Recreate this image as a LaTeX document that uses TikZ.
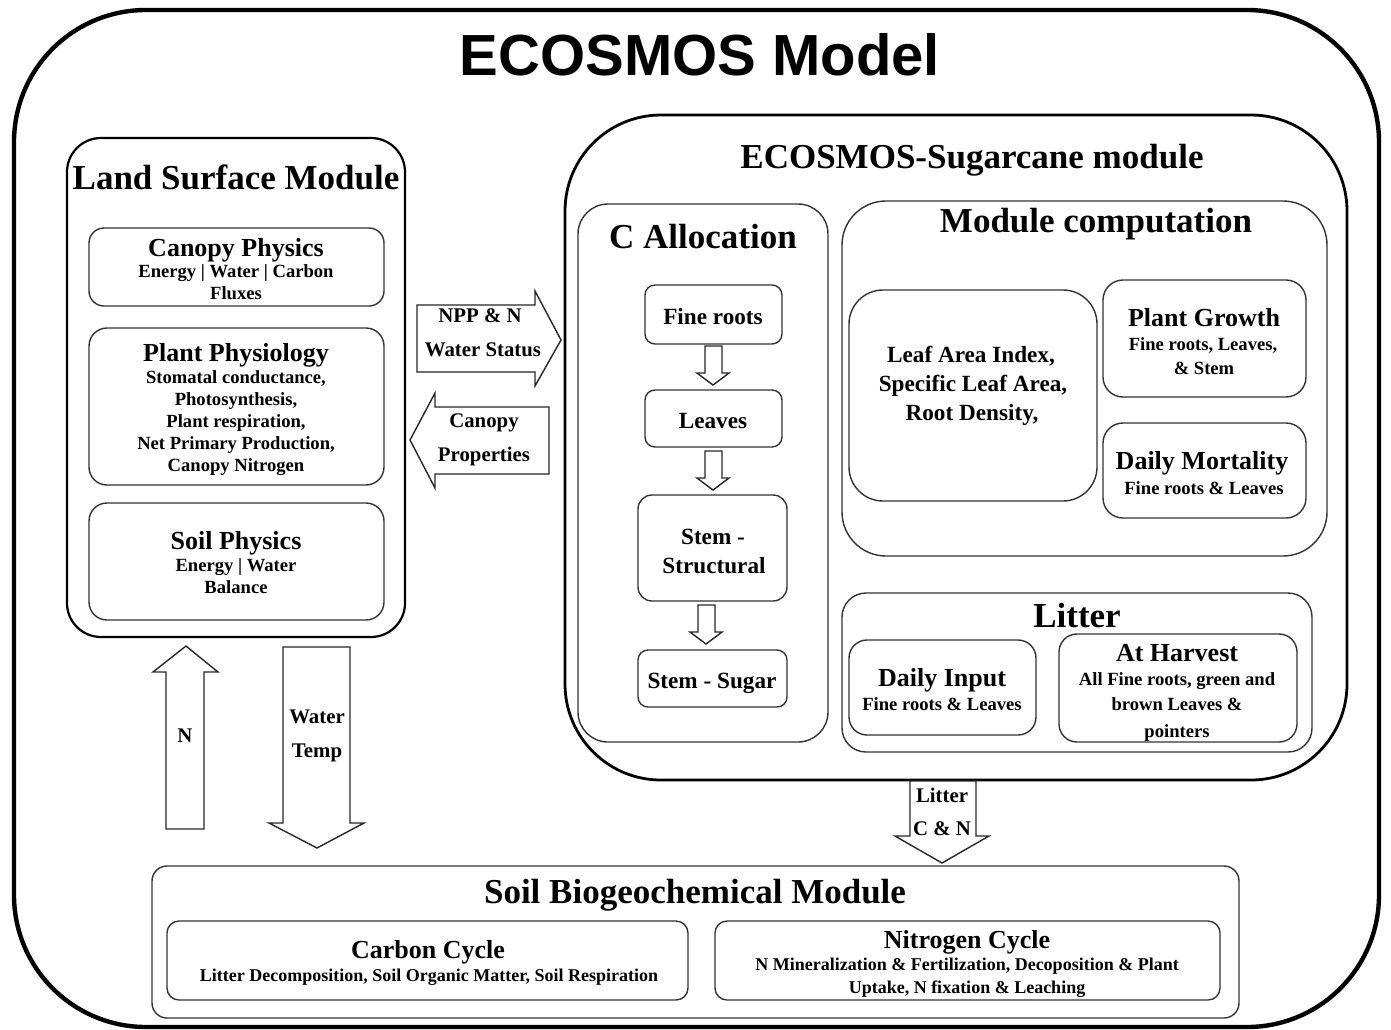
\documentclass[tikz,border=0pt]{standalone}
\usepackage{fontspec}
\setmainfont{Liberation Serif}
\newfontfamily\arialfont{Liberation Sans}
\usetikzlibrary{fit}
\tikzset{
  bx/.style={draw=black!80, line width=0.7pt, inner sep=0pt},
  ttl/.style={font=\fontsize{17.5}{21}\selectfont\bfseries, anchor=base, inner sep=0pt},
  hdr/.style={font=\fontsize{13}{15}\selectfont\bfseries, anchor=base, inner sep=0pt},
  det/.style={font=\fontsize{9.3}{11}\selectfont\bfseries, anchor=base, inner sep=0pt},
  sdet/.style={font=\fontsize{9.0}{11}\selectfont\bfseries, anchor=base, inner sep=0pt},
  itm/.style={font=\fontsize{11.6}{14}\selectfont\bfseries, anchor=base, inner sep=0pt},
  lbl/.style={font=\fontsize{10.4}{12}\selectfont\bfseries, anchor=base, inner sep=0pt},
  blk/.style={draw=black!85, line width=0.7pt, fill=white, line join=miter}
}
\begin{document}
\begin{tikzpicture}[x=0.5pt,y=-0.5pt]
\useasboundingbox (0,0) rectangle (1391,1029);
\clip (0,0) rectangle (1391,1029);
% outer frame
\node[bx, draw=black, line width=2.2pt, rounded corners=66pt, fit={(14,10) (1379,1027)}] (outer) {};
\node[anchor=base, inner sep=0pt, font=\arialfont\fontsize{29}{33}\selectfont\bfseries] (title) at (700,75) {ECOSMOS Model};

% Land surface module
\node[bx, draw=black, line width=1.1pt, rounded corners=17pt, fit={(67,138) (405,637)}] (lsm) {};
\node[ttl] (lsmt) at (236,189) {Land Surface Module};
\node[bx, rounded corners=7.5pt, fit={(89,228) (384,306)}] (cp) {};
\node[hdr] (cpt) at (236,256) {Canopy Physics};
\node[det] (cpd1) at (236,277) {Energy | Water | Carbon};
\node[det] (cpd2) at (236,299) {Fluxes};
\node[bx, rounded corners=9pt, fit={(89,328) (384,485)}] (pp) {};
\node[hdr] (ppt) at (236,361) {Plant Physiology};
\node[det] (ppd1) at (236,383) {Stomatal conductance,};
\node[det] (ppd2) at (236,405) {Photosynthesis,};
\node[det] (ppd3) at (236,427) {Plant respiration,};
\node[det] (ppd4) at (236,449) {Net Primary Production,};
\node[det] (ppd5) at (236,471) {Canopy Nitrogen};
\node[bx, rounded corners=9pt, fit={(89,503) (384,620)}] (sp) {};
\node[hdr] (spt) at (236,549) {Soil Physics};
\node[det] (spd1) at (236,571) {Energy | Water};
\node[det] (spd2) at (236,593) {Balance};

% exchange arrows
\draw[blk] (417,305) -- (535,305) -- (535,291) -- (561,340) -- (535,386) -- (535,372) -- (417,372) -- cycle;
\node[lbl] (npp1) at (480,322) {NPP \& N};
\node[lbl] (npp2) at (483,356) {Water Status};
\draw[blk] (549,407) -- (435,407) -- (435,393) -- (410,440) -- (435,488) -- (435,474) -- (549,474) -- cycle;
\node[lbl] (cpr1) at (484,427) {Canopy};
\node[lbl] (cpr2) at (484,461) {Properties};

% Sugarcane module
\node[bx, draw=black, line width=1.4pt, rounded corners=48pt, fit={(565,115) (1347,780)}] (scm) {};
\node[ttl] (scmt) at (972,168) {ECOSMOS-Sugarcane module};

% C allocation
\node[bx, rounded corners=15pt, fit={(578,204) (828,742)}] (ca) {};
\node[ttl] (cat) at (703,248) {C Allocation};
\node[bx, rounded corners=5pt, fit={(645,285) (782,344)}] (fr) {};
\node[itm] (frt) at (713,324) {Fine roots};
\node[bx, rounded corners=5pt, fit={(645,390) (782,447)}] (lv) {};
\node[itm] (lvt) at (713,428) {Leaves};
\node[bx, rounded corners=7pt, fit={(638,495) (787,601)}] (ss) {};
\node[itm, align=center] (sst1) at (713,544) {Stem -};
\node[itm] (sst2) at (714,573) {Structural};
\node[bx, rounded corners=5pt, fit={(638,650) (787,707)}] (sg) {};
\node[itm] (sgt) at (712,688) {Stem - Sugar};
\draw[blk] (705,346) -- (722,346) -- (722,373) -- (729,373) -- (713,385) -- (697,373) -- (705,373) -- cycle;
\draw[blk] (705,451) -- (722,451) -- (722,478) -- (729,478) -- (713,490) -- (697,478) -- (705,478) -- cycle;
\draw[blk] (698,605) -- (715,605) -- (715,632) -- (722,632) -- (706,644) -- (690,632) -- (698,632) -- cycle;

% Module computation
\node[bx, rounded corners=22pt, fit={(842,201) (1327,556)}] (mc) {};
\node[ttl] (mct) at (1096,232) {Module computation};
\node[bx, rounded corners=17pt, fit={(849,290) (1097,501)}] (lai) {};
\node[itm] (lai1) at (971,362) {Leaf Area Index,};
\node[itm] (lai2) at (973,391) {Specific Leaf Area,};
\node[itm] (lai3) at (972,420) {Root Density,};
\node[bx, rounded corners=10pt, fit={(1103,280) (1306,397)}] (pg) {};
\node[hdr] (pgt) at (1204,326) {Plant Growth};
\node[det] (pgd1) at (1203,350) {Fine roots, Leaves,};
\node[det] (pgd2) at (1204,374) {\& Stem};
\node[bx, rounded corners=10pt, fit={(1103,423) (1306,518)}] (dm) {};
\node[hdr] (dmt) at (1202,469) {Daily Mortality};
\node[det] (dmd) at (1204,494) {Fine roots \& Leaves};

% Litter
\node[bx, rounded corners=12pt, fit={(842,593) (1312,752)}] (lit) {};
\node[ttl] (litt) at (1077,627) {Litter};
\node[bx, rounded corners=9pt, fit={(849,640) (1036,735)}] (di) {};
\node[hdr] (dit) at (942,686) {Daily Input};
\node[det] (did) at (942,710) {Fine roots \& Leaves};
\node[bx, rounded corners=9pt, fit={(1059,634) (1297,742)}] (ah) {};
\node[hdr] (aht) at (1177,661) {At Harvest};
\node[det] (ahd1) at (1177,685) {All Fine roots, green and};
\node[det] (ahd2) at (1177,710) {brown Leaves \&};
\node[det] (ahd3) at (1177,737) {pointers};

% vertical arrows
\draw[blk] (166,829) -- (166,672) -- (153,672) -- (186,646) -- (218,672) -- (204,672) -- (204,829) -- cycle;
\node[lbl] (nlab) at (185,742) {N};
\draw[blk] (283,647) -- (350,647) -- (350,823) -- (364,823) -- (317,848) -- (269,823) -- (283,823) -- cycle;
\node[lbl] (wt1) at (317,723) {Water};
\node[lbl] (wt2) at (317,757) {Temp};

% Soil biogeochemical module
\node[bx, rounded corners=7.5pt, fit={(152,866) (1239,1018)}] (sb) {};
\node[ttl] (sbt) at (695,903) {Soil Biogeochemical Module};
\node[bx, rounded corners=6pt, fit={(167,921) (688,1000)}] (cc) {};
\node[hdr] (cct) at (428,958) {Carbon Cycle};
\node[sdet] (ccd) at (429,981) {Litter Decomposition, Soil Organic Matter, Soil Respiration};
\node[bx, rounded corners=6pt, fit={(715,921) (1220,1000)}] (nc) {};
\node[hdr] (nct) at (967,948) {Nitrogen Cycle};
\node[sdet] (ncd1) at (967,970) {N Mineralization \& Fertilization, Decoposition \& Plant};
\node[sdet] (ncd2) at (967,993) {Uptake, N fixation \& Leaching};

% litter arrow
\draw[blk] (910,781) -- (976,781) -- (976,836) -- (989,836) -- (942,863) -- (895,836) -- (910,836) -- cycle;
\node[lbl] (lc1) at (942,802) {Litter};
\node[lbl] (lc2) at (942,835) {C \& N};
\end{tikzpicture}
\end{document}
